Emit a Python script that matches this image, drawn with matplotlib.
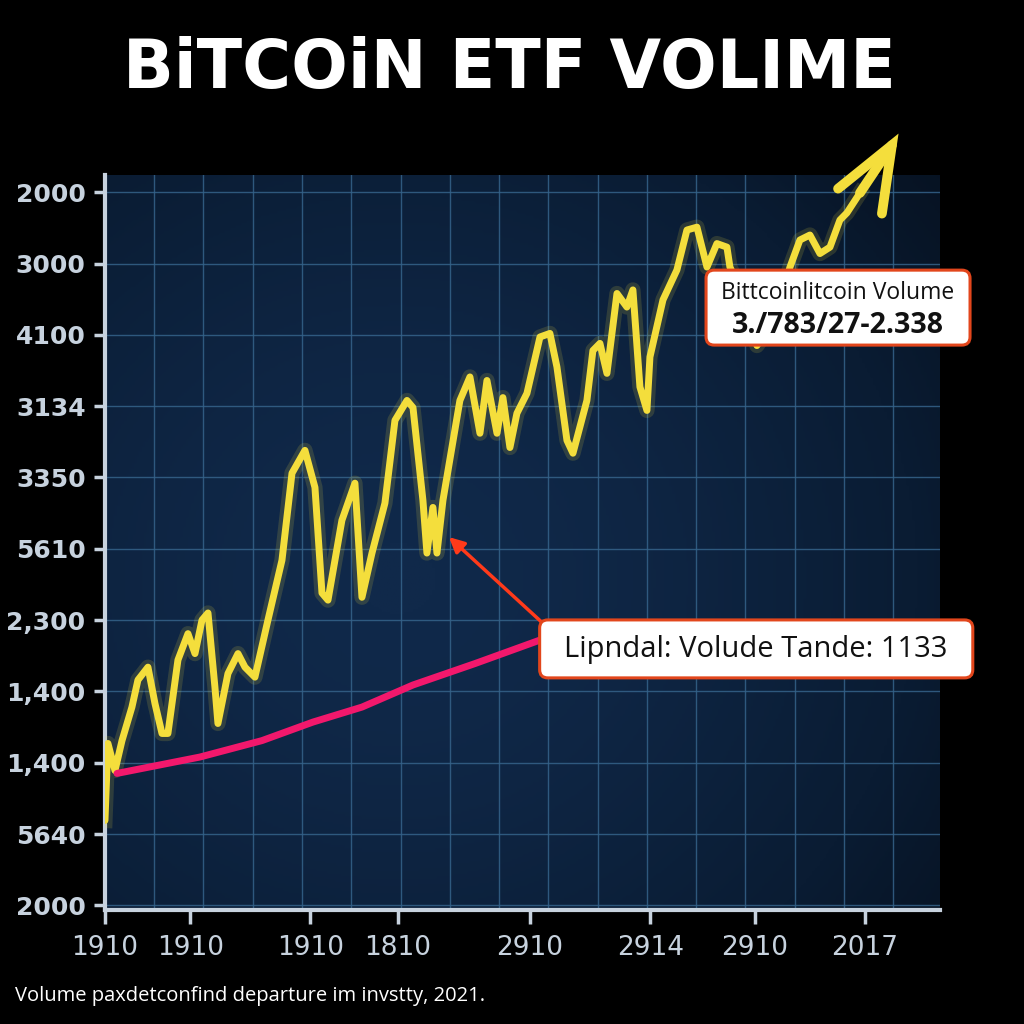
#!/usr/bin/env python3
"""Bitcoin ETF volume chart, dark screen style."""

import matplotlib.pyplot as plt
import numpy as np
from matplotlib.colors import LinearSegmentedColormap
from matplotlib.patches import FancyBboxPatch
from matplotlib.ticker import MultipleLocator

# yellow volume series (x = day index 0..100, y = level 0..10)
vol_x = [0.0, 0.36, 1.2, 2.04, 3.23, 3.95, 5.15, 5.99, 6.83, 7.54, 8.74, 9.94,
         10.78, 11.62, 12.34, 13.17, 13.53, 14.73, 15.93, 16.77, 17.96, 19.52,
         21.2, 22.4, 23.95, 25.15, 25.99, 26.71, 28.38, 29.94, 30.78, 31.98,
         33.53, 34.73, 36.17, 36.89, 38.08, 38.56, 39.28, 39.76, 40.48, 42.51,
         43.71, 44.91, 45.75, 46.95, 47.66, 48.5, 49.34, 50.54, 52.1, 53.29,
         54.13, 55.33, 56.05, 57.72, 58.44, 59.28, 60.12, 61.32, 62.51, 63.23,
         64.07, 64.91, 65.27, 66.83, 68.5, 69.7, 70.9, 72.1, 73.29, 74.49,
         74.85, 76.65, 78.08, 80.24, 82.04, 83.23, 84.43, 85.63, 86.83, 88.02,
         88.86, 90.42]
vol_y = [1.19, 2.27, 1.89, 2.31, 2.78, 3.16, 3.34, 2.83, 2.41, 2.41, 3.44, 3.81,
         3.53, 4.0, 4.1, 3.06, 2.55, 3.25, 3.53, 3.34, 3.2, 4.0,
         4.84, 6.06, 6.38, 5.86, 4.38, 4.28, 5.4, 5.92, 4.32, 4.94,
         5.64, 6.8, 7.08, 6.98, 5.68, 4.94, 5.58, 4.94, 5.68, 7.08,
         7.41, 6.62, 7.36, 6.62, 7.12, 6.42, 6.9, 7.18, 7.97, 8.02,
         7.55, 6.52, 6.34, 7.08, 7.78, 7.88, 7.46, 8.58, 8.39, 8.63,
         7.27, 6.94, 7.69, 8.49, 8.91, 9.47, 9.51, 8.95, 9.28, 9.23,
         8.95, 8.49, 7.85, 8.2, 8.95, 9.33, 9.4, 9.14, 9.23, 9.61,
         9.71, 9.99]

# trend arrow at the end of the series
arrow_shaft_x = [90.42, 94.25]
arrow_shaft_y = [9.99, 10.66]
arrow_head_x = [87.8, 94.25, 93.05]
arrow_head_y = [10.05, 10.66, 9.7]

# pink trend curve
trend_x = [1.44, 11.38, 18.8, 24.91, 30.78, 36.89, 44.31, 52.1, 54.49]
trend_y = [1.85, 2.08, 2.31, 2.57, 2.78, 3.09, 3.39, 3.72, 3.81]

# red callout arrow (from label to the dip)
callout_from = (52.69, 3.93)
callout_to = (40.96, 5.19)

y_labels = ["2000", "5640", "1,400", "1,400", "2,300", "5610",
            "3350", "3134", "4100", "3000", "2000"]
x_ticks = [0, 10.2, 24.6, 35.1, 50.9, 65.3, 77.8, 91.0]
x_labels = ["1910", "1910", "1910", "1810", "2910", "2914", "2910", "2017"]

TITLE = "BiTCOiN ETF VOLIME"
BOX1_LINE1 = "Bittcoinlitcoin Volume"
BOX1_LINE2 = "3./783/27-2.338"
BOX2_TEXT = "Lipndal: Volude Tande: 1133"
FOOTER = "Volume paxdetconfind departure im invstty, 2021."

YELLOW = "#f4de3c"
LIGHT = "#c7d2de"
GRID = "#35638a"

fig = plt.figure(figsize=(10.24, 10.24), dpi=100, facecolor="black")
ax = fig.add_axes([0.1025, 0.111, 0.8154, 0.718])
ax.set_facecolor("#081626")

# screen glow background
gx, gy = np.meshgrid(np.linspace(0, 1, 300), np.linspace(0, 1, 300))
glow = np.exp(-(((gx - 0.35) / 0.75) ** 2 + ((gy - 0.45) / 0.8) ** 2))
scr = LinearSegmentedColormap.from_list("scr", ["#02060c", "#0a1c33", "#10294a"])
ax.imshow(glow, extent=[0, 1, 0, 1], transform=ax.transAxes, origin="lower",
          cmap=scr, aspect="auto", zorder=0, vmin=0, vmax=1)

ax.set_xlim(0, 100)
ax.set_ylim(-0.07, 10.24)

ax.set_yticks(range(len(y_labels)))
ax.set_yticklabels(y_labels)
ax.set_xticks(x_ticks)
ax.set_xticklabels(x_labels)
ax.xaxis.set_minor_locator(MultipleLocator(5.9))

ax.grid(which="major", axis="y", color=GRID, lw=1.0, alpha=0.85, zorder=1)
ax.grid(which="minor", axis="x", color=GRID, lw=1.0, alpha=0.85, zorder=1)
ax.grid(which="major", axis="x", visible=False)

for side in ["top", "right"]:
    ax.spines[side].set_visible(False)
for side in ["left", "bottom"]:
    ax.spines[side].set_color(LIGHT)
    ax.spines[side].set_linewidth(3)

ax.tick_params(axis="y", colors=LIGHT, labelsize=18, length=8, width=2.5, pad=6)
ax.tick_params(axis="x", which="major", colors=LIGHT, labelsize=19,
               length=10, width=2.5, pad=8)
ax.tick_params(axis="x", which="minor", length=0)
for lab in ax.get_yticklabels():
    lab.set_fontweight("bold")

# yellow series with glow
ax.plot(vol_x, vol_y, color=YELLOW, lw=11, alpha=0.15, zorder=3,
        solid_joinstyle="round")
ax.plot(vol_x, vol_y, color=YELLOW, lw=5, zorder=4, solid_joinstyle="round",
        solid_capstyle="round")
ax.plot(arrow_shaft_x, arrow_shaft_y, color=YELLOW, lw=7, zorder=4,
        solid_capstyle="round", clip_on=False)
ax.plot(arrow_head_x, arrow_head_y, color=YELLOW, lw=7, zorder=4,
        solid_capstyle="round", solid_joinstyle="miter", clip_on=False)

# pink trend
ax.plot(trend_x, trend_y, color="#f2186c", lw=5, zorder=5,
        solid_capstyle="round")

# red callout arrow
ax.annotate("", xy=callout_to, xytext=callout_from,
            arrowprops=dict(arrowstyle="-|>,head_length=0.9,head_width=0.45",
                            color="#ff3a1a", lw=2.5),
            zorder=6)

# title
fig.text(0.497, 0.933, TITLE, ha="center", va="center", color="white",
         fontsize=48, fontweight="bold", family="DejaVu Sans")

# value boxes
def add_box(x0, y0, w, h):
    fig.patches.append(FancyBboxPatch(
        (x0, y0), w, h, boxstyle="round,pad=0,rounding_size=0.008",
        transform=fig.transFigure, fc="white", ec="#e2461c", lw=2.2,
        zorder=10))


add_box(0.6895, 0.663, 0.2578, 0.0732)
fig.text(0.818, 0.714, BOX1_LINE1, ha="center", va="center", fontsize=16.5,
         color="#111111", family="Open Sans", zorder=11)
fig.text(0.818, 0.682, BOX1_LINE2, ha="center", va="center", fontsize=20.5,
         fontweight="bold", color="#111111", family="Open Sans", zorder=11)

add_box(0.527, 0.338, 0.423, 0.0566)
fig.text(0.738, 0.366, BOX2_TEXT, ha="center", va="center", fontsize=21,
         color="#111111", family="Open Sans", zorder=11)

fig.text(0.015, 0.027, FOOTER, ha="left", va="center", fontsize=14.5,
         color="white", family="Open Sans")

fig.savefig("out.png", dpi=100, facecolor="black")
plt.close(fig)
